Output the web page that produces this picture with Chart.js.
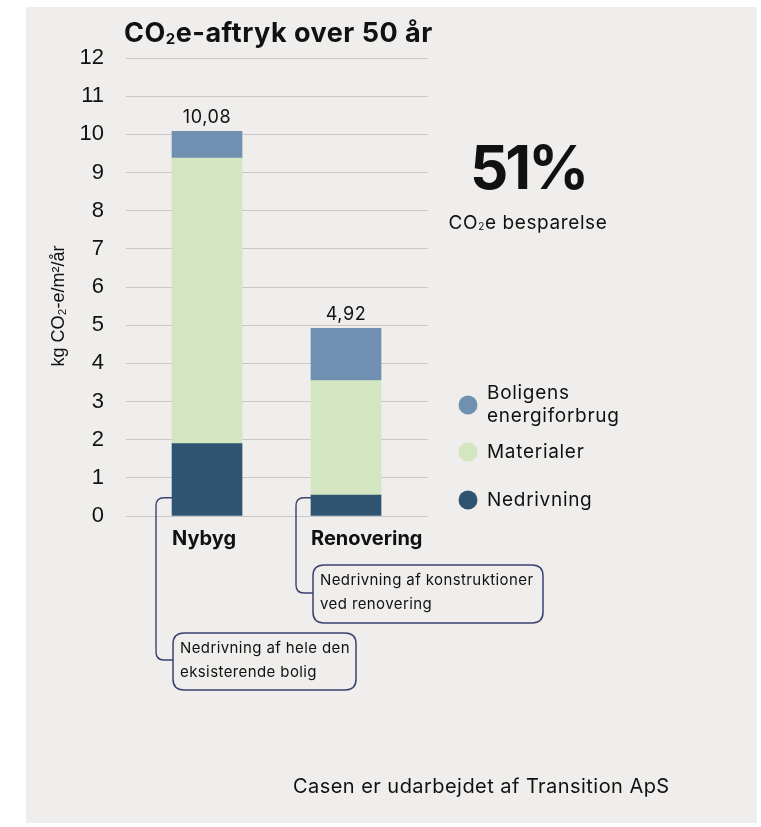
<!DOCTYPE html>
<html>
<head>
<meta charset="utf-8">
<script src="https://cdn.jsdelivr.net/npm/chart.js@4.4.1/dist/chart.umd.min.js"></script>
<style>
  html, body { margin: 0; padding: 0; background: #fff; }
  #wrap { width: 761px; height: 827px; position: relative; }
</style>
</head>
<body>
<div id="wrap"><canvas id="co2Chart"></canvas></div>
<script>
// Data
const categories = ['Nybyg', 'Renovering'];
const seriesNames = ['Nedrivning', 'Materialer', 'Boligens energiforbrug'];
const nedrivning = [1.9, 0.55];
const materialer = [7.48, 3.0];
const energiforbrug = [0.7, 1.37];
const yTicks = [0, 1, 2, 3, 4, 5, 6, 7, 8, 9, 10, 11, 12];

const colors = ['#2f5472', '#d4e5c2', '#6f90b0'];
const textFont = "'Inter', 'Liberation Sans', sans-serif";
const numFont = "'Liberation Sans', 'Inter', sans-serif";

const seriesValues = [nedrivning, materialer, energiforbrug];

const fmt = (v) => v.toFixed(2).replace('.', ',');

// Draws panel background behind everything
const backgroundPlugin = {
    id: 'panelBg',
    beforeDraw(chart) {
        const ctx = chart.ctx;
        ctx.save();
        ctx.fillStyle = '#ffffff';
        ctx.fillRect(0, 0, chart.width, chart.height);
        ctx.fillStyle = '#efeeec';
        ctx.fillRect(26, 7, 731, 816);
        ctx.restore();
    }
};

// Round-cornered box helper
function roundBox(ctx, x, y, w, h, r) {
    ctx.beginPath();
    ctx.moveTo(x + r, y);
    ctx.lineTo(x + w - r, y);
    ctx.quadraticCurveTo(x + w, y, x + w, y + r);
    ctx.lineTo(x + w, y + h - r);
    ctx.quadraticCurveTo(x + w, y + h, x + w - r, y + h);
    ctx.lineTo(x + r, y + h);
    ctx.quadraticCurveTo(x, y + h, x, y + h - r);
    ctx.lineTo(x, y + r);
    ctx.quadraticCurveTo(x, y, x + r, y);
    ctx.closePath();
}

// Connector from bar to note box
function connector(ctx, xBar, yStart, xLine, yEnd, xBox) {
    const r = 8;
    ctx.beginPath();
    ctx.moveTo(xBar, yStart);
    ctx.lineTo(xLine + r, yStart);
    ctx.quadraticCurveTo(xLine, yStart, xLine, yStart + r);
    ctx.lineTo(xLine, yEnd - r);
    ctx.quadraticCurveTo(xLine, yEnd, xLine + r, yEnd);
    ctx.lineTo(xBox, yEnd);
    ctx.stroke();
}

function text(ctx, str, x, y, font, align, spacing) {
    ctx.font = font;
    ctx.textAlign = align;
    ctx.letterSpacing = (spacing || 0) + 'px';
    ctx.fillText(str, x, y);
    ctx.letterSpacing = '0px';
}

// Text with a small subscript "2" after "CO"
function co2Text(ctx, rest, x, y, size, weight, align, spacing) {
    const big = `${weight} ${size}px ${textFont}`;
    const small = `${weight} ${Math.round(size * 0.55)}px ${textFont}`;
    ctx.letterSpacing = spacing + 'px';
    ctx.font = big;
    const w1 = ctx.measureText('CO').width;
    const w3 = ctx.measureText(rest).width;
    ctx.font = small;
    const w2 = ctx.measureText('2').width;
    let start = x;
    if (align === 'center') start = x - (w1 + w2 + w3) / 2;
    ctx.textAlign = 'left';
    ctx.font = big;
    ctx.fillText('CO', start, y);
    ctx.font = small;
    ctx.fillText('2', start + w1, y + size * 0.2);
    ctx.font = big;
    ctx.fillText(rest, start + w1 + w2, y);
    ctx.letterSpacing = '0px';
}

const extrasPlugin = {
    id: 'extras',
    afterDraw(chart) {
        const ctx = chart.ctx;
        const yScale = chart.scales.y;
        const topMeta = chart.getDatasetMeta(seriesValues.length - 1);
        const baseMeta = chart.getDatasetMeta(0);
        ctx.save();
        ctx.fillStyle = '#111';
        ctx.textBaseline = 'middle';

        // Title
        co2Text(ctx, 'e-aftryk over 50 år', 124, 34, 27, 'bold', 'left', 0.5);

        // Y axis title
        ctx.save();
        ctx.translate(59, 306);
        ctx.rotate(-Math.PI / 2);
        text(ctx, 'kg CO₂-e/m²/år', 0, 0, `18px ${numFont}`, 'center', 0);
        ctx.restore();

        // Totals above bars and category labels
        categories.forEach((cat, i) => {
            const total = seriesValues.reduce((s, arr) => s + arr[i], 0);
            const bar = topMeta.data[i];
            text(ctx, fmt(total), bar.x, bar.y - 14, `18px ${textFont}`, 'center', 0.6);
            const left = bar.x - bar.width / 2;
            text(ctx, cat, left, yScale.bottom + 23, `bold 20px ${textFont}`, 'left', 0);
        });

        // Savings figure
        const totals = categories.map((c, i) => seriesValues.reduce((s, arr) => s + arr[i], 0));
        const saving = Math.round((1 - totals[1] / totals[0]) * 100);
        text(ctx, saving + '%', 528, 171, `bold 60px ${textFont}`, 'center', -3);
        co2Text(ctx, 'e besparelse', 528, 223, 19, 'normal', 'center', 0.6);

        // Legend (top to bottom: last dataset first)
        const legendRows = [
            { idx: 2, lines: ['Boligens', 'energiforbrug'], y: 405 },
            { idx: 1, lines: ['Materialer'], y: 452 },
            { idx: 0, lines: ['Nedrivning'], y: 500 }
        ];
        legendRows.forEach(row => {
            ctx.fillStyle = colors[row.idx];
            ctx.beginPath();
            ctx.arc(468, row.y, 9.5, 0, Math.PI * 2);
            ctx.fill();
            ctx.fillStyle = '#111';
            const off = (row.lines.length - 1) * 11.5;
            row.lines.forEach((ln, k) => {
                text(ctx, ln, 487, row.y - off + k * 23, `19px ${textFont}`, 'left', 0.7);
            });
        });

        // Annotation connectors and boxes
        ctx.strokeStyle = '#3b4270';
        ctx.lineWidth = 1.4;
        const y0 = yScale.getPixelForValue(0.48);
        const b0 = baseMeta.data[0];
        const b1 = baseMeta.data[1];
        const l0 = b0.x - b0.width / 2;
        const l1 = b1.x - b1.width / 2;
        connector(ctx, l0, y0, l0 - 16, 660, l0 + 1);
        connector(ctx, l1, y0, l1 - 15, 593, l1 + 2);

        ctx.lineWidth = 1.5;
        roundBox(ctx, l0 + 1, 633, 183, 57, 11);
        ctx.stroke();
        roundBox(ctx, l1 + 2, 565, 230, 58, 11);
        ctx.stroke();

        const noteFont = `15px ${textFont}`;
        text(ctx, 'Nedrivning af hele den', l0 + 8, 648, noteFont, 'left', 0.4);
        text(ctx, 'eksisterende bolig', l0 + 8, 672, noteFont, 'left', 0.4);
        text(ctx, 'Nedrivning af konstruktioner', l1 + 9, 580, noteFont, 'left', 0.4);
        text(ctx, 'ved renovering', l1 + 9, 604, noteFont, 'left', 0.4);

        // Footer
        text(ctx, 'Casen er udarbejdet af Transition ApS', 293, 787, `20px ${textFont}`, 'left', 0.45);

        ctx.restore();
    }
};

const datasets = seriesNames.map((name, s) => ({
    label: name,
    data: categories.map((c, i) => ({ x: i, y: seriesValues[s][i] })),
    backgroundColor: colors[s],
    borderWidth: 0,
    barThickness: 70
}));

new Chart(document.getElementById('co2Chart'), {
    type: 'bar',
    data: { datasets: datasets },
    options: {
        responsive: true,
        maintainAspectRatio: false,
        animation: false,
        layout: { padding: { top: 58, right: 333, bottom: 311, left: 0 } },
        plugins: {
            legend: { display: false },
            tooltip: { enabled: false }
        },
        scales: {
            x: {
                type: 'linear',
                stacked: true,
                offset: false,
                min: -0.583,
                max: 1.59,
                display: false
            },
            y: {
                stacked: true,
                min: 0,
                max: 12,
                afterBuildTicks: (scale) => { scale.ticks = yTicks.map(v => ({ value: v })); },
                afterFit: (scale) => { scale.width = 126; },
                border: { display: false },
                grid: { color: '#c9c8c6', lineWidth: 1, drawTicks: false },
                ticks: {
                    padding: 22,
                    color: '#111',
                    font: { family: numFont, size: 22 }
                }
            }
        }
    },
    plugins: [backgroundPlugin, extrasPlugin]
});
</script>
</body>
</html>
